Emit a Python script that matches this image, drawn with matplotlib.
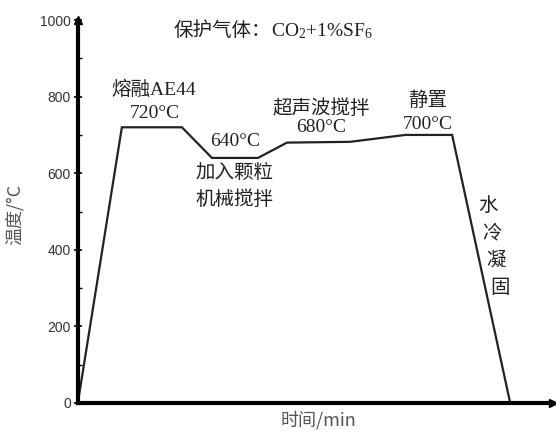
import matplotlib
matplotlib.use("Agg")
import matplotlib.pyplot as plt
from matplotlib.ticker import MultipleLocator

# process curve: time (relative, min) vs temperature (°C)
time_min = [0, 4.4, 10.4, 13.4, 18.0, 20.9, 27.2, 32.7, 37.4, 43.2]
temp_c = [0, 720, 720, 640, 640, 680, 682, 700, 700, 0]

y_ticks = [0, 200, 400, 600, 800, 1000]

SERIF = ["Liberation Serif", "Noto Sans CJK SC"]
CJK = ["Noto Sans CJK SC", "DejaVu Sans"]

plt.rcParams["mathtext.fontset"] = "custom"
plt.rcParams["mathtext.rm"] = "Liberation Serif"
plt.rcParams["mathtext.it"] = "Liberation Serif:italic"

fig = plt.figure(figsize=(5.56, 4.37), dpi=100)
ax = fig.add_axes([0.140, 0.078, 0.855, 0.876])

ax.plot(time_min, temp_c, color="#222222", lw=1.6, solid_joinstyle="miter")

ax.set_xlim(0, 47.5)
ax.set_ylim(0, 1000)
ax.set_xticks([])
ax.set_yticks(y_ticks)
ax.yaxis.set_minor_locator(MultipleLocator(100))
ax.tick_params(axis="y", which="major", direction="inout", length=6, width=1.2,
               labelsize=10, pad=2)
ax.tick_params(axis="y", which="minor", direction="in", length=3, width=1)
for lab in ax.get_yticklabels():
    lab.set_family("Liberation Sans")
    lab.set_color("#333333")

for s in ["top", "right"]:
    ax.spines[s].set_visible(False)
for s in ["left", "bottom"]:
    ax.spines[s].set_linewidth(3)
    ax.spines[s].set_color("black")

# arrow heads at the axis ends
ax.plot(1, 0, ">k", ms=6, transform=ax.get_yaxis_transform(), clip_on=False)
ax.plot(0, 1, "^k", ms=6, transform=ax.get_xaxis_transform(), clip_on=False)

# axis titles placed in figure coords
fig.text(15 / 556, 1 - 214 / 437, "温度/°C", family=CJK, fontsize=13,
         color="#555555", rotation=90, ha="center", va="center")
fig.text(318 / 556, 1 - 420 / 437, "时间/min", family=CJK, fontsize=13,
         color="#555555", ha="center", va="center")

txt = dict(family=SERIF, fontsize=14, color="#222222", va="center")
ax.text(19.3, 972, "保护气体：", ha="right", **txt)
ax.text(19.3, 972, "CO$_2$+1%SF$_6$", ha="left", **txt)
ax.text(7.6, 818, "熔融AE44", ha="center", **txt)
ax.text(7.7, 755, "720°C", ha="center", **txt)
ax.text(15.7, 683, "640°C", ha="center", **txt)
ax.text(15.7, 600, "加入颗粒", ha="center", **txt)
ax.text(15.7, 530, "机械搅拌", ha="center", **txt)
ax.text(24.3, 770, "超声波搅拌", ha="center", **txt)
ax.text(24.3, 720, "680°C", ha="center", **txt)
ax.text(35.0, 790, "静置", ha="center", **txt)
ax.text(35.0, 727, "700°C", ha="center", **txt)
for i, ch in enumerate("水冷凝固"):
    ax.text(41.0 + i * 0.4, 515 - i * 72, ch, ha="center", **txt)

fig.savefig("out.png", dpi=100)
